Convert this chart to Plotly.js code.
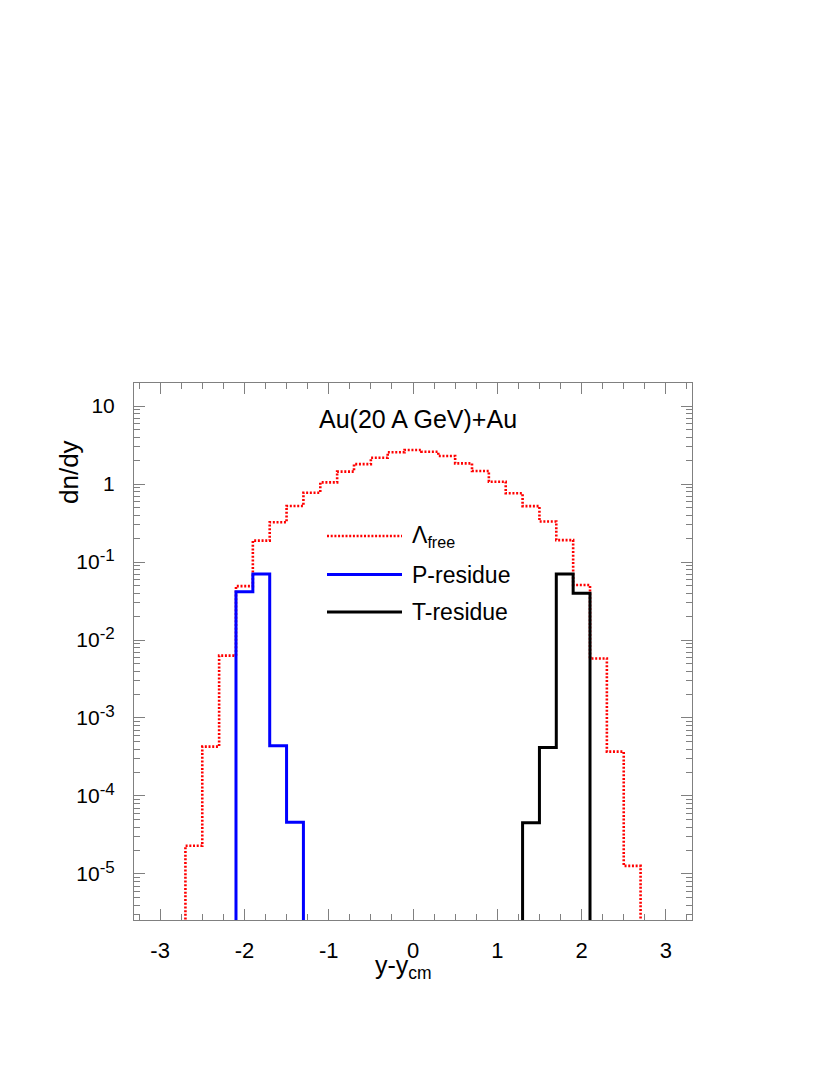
<!DOCTYPE html>
<html><head><meta charset="utf-8">
<script src="https://cdn.plot.ly/plotly-3.0.1.min.js"></script>
<style>html,body{margin:0;padding:0;background:#fff}</style>
</head><body>
<div id="chart" style="width:830px;height:1075px"></div>
<script>
// ---- data ----
const freeEdges = [-2.7,-2.5,-2.3,-2.1,-1.9,-1.7,-1.5,-1.3,-1.1,-0.9,-0.7,-0.5,-0.3,-0.1,
                   0.1,0.3,0.5,0.7,0.9,1.1,1.3,1.5,1.7,1.9,2.1,2.3,2.5,2.7];
const lambdaFree = [2.3e-5,4.3e-4,0.0063,0.049,0.188,0.323,0.523,0.774,1.05,1.44,1.80,2.17,2.55,
                    2.73,2.59,2.29,1.84,1.47,1.07,0.76,0.52,0.33,0.191,0.0507,0.0058,3.7e-4,1.27e-5];
const pResidueEdges = [-2.1,-1.9,-1.7,-1.5,-1.3];
const pResidue = [0.0416,0.070,4.4e-4,4.6e-5];
const tResidueEdges = [1.3,1.5,1.7,1.9,2.1];
const tResidue = [4.55e-5,4.2e-4,0.070,0.0397];
const xTickVals = [-3,-2,-1,0,1,2,3];
const xTickText = ['-3','-2','-1','0','1','2','3'];
const yTickVals = [10,1,0.1,0.01,0.001,1e-4,1e-5];
const yExponents = [null,null,'-1','-2','-3','-4','-5'];
const seriesNames = ['Λ<sub>free</sub>','P-residue','T-residue'];
const titleText = 'Au(20 A GeV)+Au';

// ---- helpers ----
const yTickText = yTickVals.map((v,i) => yExponents[i] ? '10<sup><span style="font-size:17px">'+yExponents[i]+'</span></sup>' : String(v));
const FLOOR = 1e-9; // below axis range: outline drops to the frame
function steps(edges, vals){
  const x=[edges[0]], y=[FLOOR];
  for(let i=0;i<vals.length;i++){ x.push(edges[i], edges[i+1]); y.push(vals[i], vals[i]); }
  x.push(edges[edges.length-1]); y.push(FLOOR);
  return {x:x, y:y};
}
const L=134, R=692, T=383, B=920, W=830, H=1075;
const px = v => (v-L)/(R-L);
const py = v => (B-v)/(B-T);
const FONT = 'Liberation Sans, Arial, Helvetica, sans-serif';
const AX = '#808080';

const f = steps(freeEdges, lambdaFree);
const p = steps(pResidueEdges, pResidue);
const t = steps(tResidueEdges, tResidue);
const colors = ['#ff0000','#0000ff','#000000'];
const dashes = ['2px,1.7px','solid','solid'];
const widths = [2.6,3,3];

const traces = [
  {x:f.x, y:f.y, mode:'lines', name:seriesNames[0], line:{color:colors[0], width:widths[0], dash:dashes[0]}},
  {x:p.x, y:p.y, mode:'lines', name:seriesNames[1], line:{color:colors[1], width:widths[1]}},
  {x:t.x, y:t.y, mode:'lines', name:seriesNames[2], line:{color:colors[2], width:widths[2]}}
];

const minorY = [];
for(let e=-6;e<=1;e++) for(let d=2;d<=9;d++) minorY.push(d*Math.pow(10,e));

const legendY = [536, 574.5, 612];
const shapes = [], annotations = [];
for(let i=0;i<3;i++){
  shapes.push({type:'line', xref:'paper', yref:'paper', x0:px(327), x1:px(402), y0:py(legendY[i]), y1:py(legendY[i]),
    line:{color:colors[i], width:widths[i], dash:dashes[i]}});
  annotations.push({xref:'paper', yref:'paper', x:px(410), y:py(legendY[i]), xanchor:'left', yanchor:'middle',
    text:seriesNames[i], showarrow:false, font:{family:FONT, size:23, color:'#000'}});
}
annotations.push({xref:'paper', yref:'paper', x:px(418), y:py(419), xanchor:'center', yanchor:'middle',
  text:titleText, showarrow:false, font:{family:FONT, size:25, color:'#000'}});
annotations.push({xref:'paper', yref:'paper', x:px(69), y:py(472), xanchor:'center', yanchor:'middle', textangle:-90,
  text:'dn/dy', showarrow:false, font:{family:FONT, size:26, color:'#000'}});
annotations.push({xref:'paper', yref:'paper', x:px(403), y:py(967), xanchor:'center', yanchor:'middle',
  text:'y-y<sub>cm</sub>', showarrow:false, font:{family:FONT, size:25, color:'#000'}});

const layout = {
  width:W, height:H, showlegend:false,
  paper_bgcolor:'#fff', plot_bgcolor:'#fff',
  margin:{l:L, r:W-R, t:T, b:H-B, pad:0},
  xaxis:{range:[-3.31,3.31], showgrid:false, zeroline:false, showline:true, linecolor:AX, linewidth:1,
    mirror:'allticks', ticks:'inside', ticklen:11, tickwidth:1, tickcolor:AX,
    tickmode:'array', tickvals:xTickVals, ticktext:xTickText, ticklabelstandoff:11,
    tickfont:{family:FONT, size:22, color:'#000'},
    minor:{tickmode:'linear', tick0:0, dtick:0.25, ticks:'inside', ticklen:6, tickcolor:AX, showgrid:false}},
  yaxis:{type:'log', range:[-5.59,1.295], showgrid:false, zeroline:false, showline:true, linecolor:AX, linewidth:1,
    mirror:'allticks', ticks:'inside', ticklen:11, tickwidth:1, tickcolor:AX,
    tickmode:'array', tickvals:yTickVals, ticktext:yTickText, ticklabelstandoff:14,
    tickfont:{family:FONT, size:21, color:'#000'},
    minor:{tickmode:'array', tickvals:minorY, ticks:'inside', ticklen:6, tickcolor:AX, showgrid:false}},
  shapes:shapes, annotations:annotations
};
Plotly.newPlot('chart', traces, layout, {staticPlot:true, displayModeBar:false});
</script>
</body></html>
